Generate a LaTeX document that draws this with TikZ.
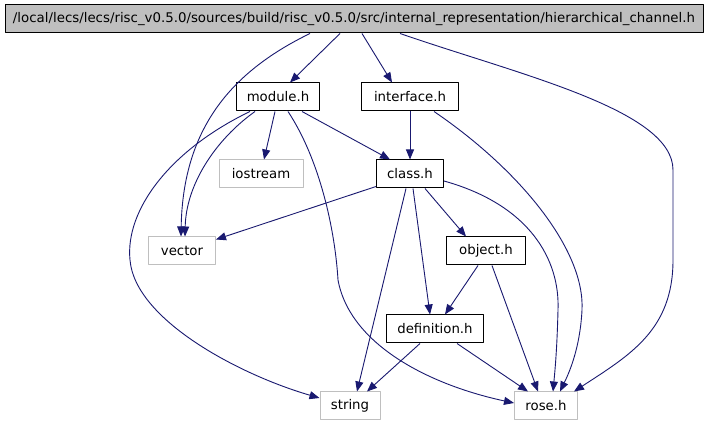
\documentclass[tikz,border=0pt]{standalone}
\usepackage{graphicx}
\usepackage{fontspec}
\setmainfont{DejaVu Sans}
\usetikzlibrary{arrows.meta}
\definecolor{edgeblue}{HTML}{191970}
\definecolor{grey75}{HTML}{BFBFBF}
\begin{document}
\begin{tikzpicture}[x=1pt, y=-1pt, font=\fontsize{13.3}{15}\selectfont, line join=round, >={Triangle[length=10pt,width=8pt]},
    hdr/.style={draw=black, fill=grey75, line width=1pt, minimum height=28pt, inner sep=0pt},
    inc/.style={draw=black, line width=1pt, minimum height=28pt, inner sep=0pt},
    sys/.style={draw=grey75, line width=1pt, minimum height=28pt, inner sep=0pt},
    dep/.style={->, draw=edgeblue, line width=0.9pt}]
    \useasboundingbox[fill=white] (0,0) rectangle (707,427);
    % files
    \node[hdr, minimum width=698pt] (chan) at (354,19) {\resizebox{682pt}{\height}{/local/lecs/lecs/risc\_v0.5.0/sources/build/risc\_v0.5.0/src/internal\_representation/hierarchical\_channel.h}};
    \node[inc, minimum width=83pt] (module) at (278,97) {module.h};
    \node[inc, minimum width=97pt] (interface) at (410,97) {interface.h};
    \node[sys, minimum width=84pt] (iostream) at (261,174) {iostream};
    \node[inc, minimum width=67pt] (class) at (410,174) {class.h};
    \node[sys, minimum width=67pt] (vector) at (182,251) {vector};
    \node[inc, minimum width=79pt] (object) at (486,251) {object.h};
    \node[inc, minimum width=97pt] (definition) at (435,329) {definition.h};
    \node[sys, minimum width=60pt] (string) at (350,406) {string};
    \node[sys, minimum width=63pt] (rose) at (546,406) {rose.h};
    % includes of the channel header
    \draw[dep] ([xshift=-44pt]chan.south) .. controls (235,70) and (183,125) .. ([xshift=-1pt]vector.north);
    \draw[dep] ([xshift=-14pt]chan.south) -- ([xshift=12pt]module.north);
    \draw[dep] ([xshift=8pt]chan.south) -- ([xshift=-18pt]interface.north);
    \draw[dep] ([xshift=46pt]chan.south) .. controls (520,75) and (673,110) .. (673,170) -- (673,260) .. controls (673,330) and (630,355) .. ([xshift=-4pt]rose.north east);
    % module.h
    \draw[dep] ([xshift=-28pt]module.south) .. controls (170,150) and (125,210) .. (130,260) .. controls (135,320) and (240,375) .. ([yshift=8pt]string.west);
    \draw[dep] ([xshift=-23pt]module.south) .. controls (215,140) and (186,185) .. ([xshift=3pt]vector.north);
    \draw[dep] ([xshift=-3pt]module.south) -- ([xshift=3pt]iostream.north);
    \draw[dep] ([xshift=10pt]module.south) .. controls (320,160) and (335,230) .. (338,280) .. controls (350,345) and (430,385) .. ([yshift=3pt]rose.west);
    \draw[dep] ([xshift=24pt]module.south) -- ([xshift=-20pt]class.north);
    % interface.h
    \draw[dep] (interface.south) -- (class.north);
    \draw[dep] ([xshift=24pt]interface.south) .. controls (520,170) and (585,250) .. (582,310) .. controls (580,350) and (568,375) .. ([xshift=14pt]rose.north);
    % class.h
    \draw[dep] ([yshift=2pt]class.south west) -- ([yshift=-3pt]vector.north east);
    \draw[dep] ([xshift=-4pt]class.south) -- ([xshift=7pt]string.north);
    \draw[dep] ([xshift=3pt]class.south) -- ([xshift=-5pt]definition.north);
    \draw[dep] ([xshift=15pt]class.south) -- ([xshift=-20pt]object.north);
    \draw[dep] ([yshift=-7pt]class.east) .. controls (530,205) and (560,260) .. (558,310) .. controls (557,350) and (555,370) .. ([xshift=7pt]rose.north);
    % object.h and definition.h
    \draw[dep] ([xshift=-8pt]object.south) -- ([xshift=10pt]definition.north);
    \draw[dep] ([xshift=6pt]object.south) -- ([xshift=-8pt]rose.north);
    \draw[dep] ([xshift=-15pt]definition.south) -- ([xshift=17pt]string.north);
    \draw[dep] ([xshift=22pt]definition.south) -- ([xshift=-18pt]rose.north);
\end{tikzpicture}
\end{document}
